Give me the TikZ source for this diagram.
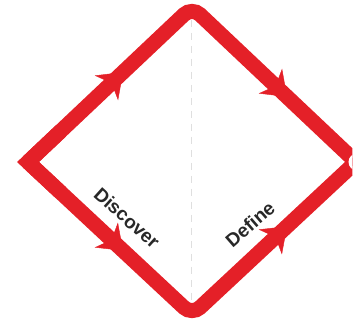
\documentclass[tikz,border=0pt]{standalone}
\usepackage{fontspec}
\setmainfont{Liberation Sans}
\usetikzlibrary{arrows.meta, decorations.markings, calc}

\definecolor{ddred}{RGB}{228,32,40}
\definecolor{ddtext}{RGB}{40,40,40}

\begin{document}
\begin{tikzpicture}[
		x=1pt, y=1pt,
		edge/.style={
			draw=ddred,
			line width=15pt,
			line join=miter
		},
		arrowmark/.style={
			postaction={decorate},
			decoration={markings,
				mark=at position 0.58 with {\arrow[ddred]{Stealth[length=23pt, width=34pt, inset=7pt]}}}
		},
		divider/.style={
			draw=gray!25,
			line width=1pt,
			dash pattern=on 7pt off 6pt
		},
		phase/.style={
			font=\bfseries\fontsize{19}{21}\selectfont,
			text=ddtext,
			inner sep=0pt
		}
		]
		
		\useasboundingbox (0,0) rectangle (360,324);
		
		% Corners
		\coordinate (left) at (28,162);
		\coordinate (top) at (192,317);
		\coordinate (right) at (356,162);
		\coordinate (bottom) at (192,9);
		\coordinate (topin) at (192,304);
		\coordinate (bottomin) at (192,21);
		
		% Divider
		\draw[divider] (topin) -- (bottomin);
		
		% Diamond (cut off at the right)
		\begin{scope}
			\clip (0,0) rectangle (352.5,324);
			\draw[edge, rounded corners=11pt] (left) -- (top) -- (right);
			\draw[edge, rounded corners=11pt] (left) -- (bottom) -- (right);
			\draw[edge] ($(left)!0.2!(top)$) -- (left) -- ($(left)!0.2!(bottom)$);
			\fill[white] (357,162) circle (8.5pt);
		\end{scope}
		
		% Arrows on the edges
		\path[arrowmark] (left) -- (top);
		\path[arrowmark] (top) -- (right);
		\path[arrowmark] (left) -- (bottom);
		\path[arrowmark] (bottom) -- (right);
		
		% Labels
		\node[phase, rotate=-42] (discover) at (127,106) {Discover};
		\node[phase, rotate=41] (define) at (250,100) {Define};
		
	\end{tikzpicture}
\end{document}
